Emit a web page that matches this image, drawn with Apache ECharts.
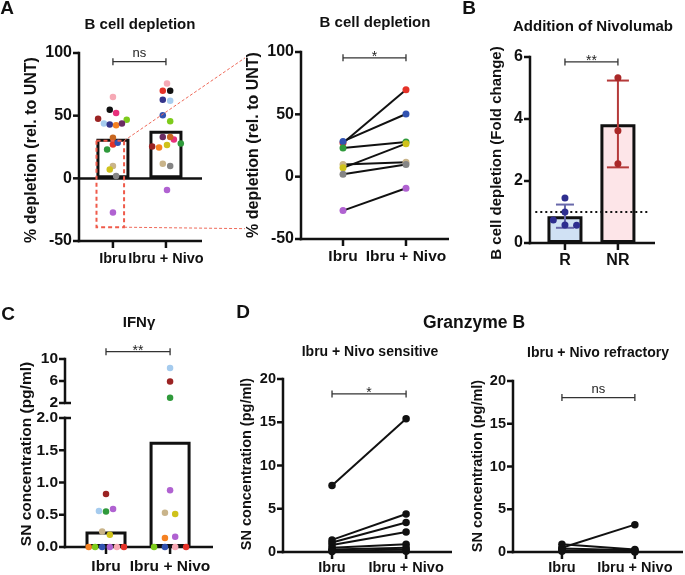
<!DOCTYPE html>
<html><head><meta charset="utf-8">
<script src="https://cdn.jsdelivr.net/npm/echarts@6/dist/echarts.min.js"></script>
<style>html,body{margin:0;padding:0;background:#fff}#c{width:685px;height:575px}</style>
</head><body><div id="c"></div>
<script>
// ---------------- DATA ----------------
const categories = ['Ibru', 'Ibru + Nivo'];
const categoriesB = ['R', 'NR'];
// donors (panel A): lightpink, black, magenta, darkred, lime, lightblue, navy, orange, plum, brownorange, red, blue, green, khaki, yellow, gray, purple
const donorColors = ['#f6a9b5','#111111','#e8317c','#9b2323','#7dcb1b','#a5cbee','#34348b','#f58121','#6b2d63','#c7661f','#e53228','#3152b1','#2f9a3b','#c9b48a','#cfc21b','#858585','#b062d1'];
const aIbru = [64.8,54.8,52.1,47.6,46.8,43.7,42.9,42.3,43.7,32.3,27.0,28.3,23.0,9.8,7.1,1.9,-27.2];
const aNivo = [75.6,69.8,31.0,25.4,45.5,61.9,62.7,24.6,33.0,33.0,69.8,50.3,27.8,11.6,26.5,9.8,-9.3];
const aIbruJitter = [0,-0.06,0.06,-0.28,0.26,-0.17,-0.06,0.06,0.17,0,0,0.09,-0.11,0,-0.06,0.06,0];
const aNivoJitter = [0.02,0.08,0.15,-0.26,0.08,0.08,-0.06,-0.13,-0.06,0.08,-0.06,-0.06,0.28,-0.06,0.02,0.08,0.02];
const aBars = [31.5, 38.0];
const aPairedDonors = [10,11,12,13,14,15,16];
const aTicks = [-50, 0, 50, 100];

const bR = [1.45,1.0,0.74,0.58,0.57];
const bRJitter = [0,0,-0.22,0,0.22];
const bNR = [5.33,3.62,2.56];
const bBars = [0.86, 3.83];
const bErrLow = [0.49, 2.44];
const bErrHigh = [1.24, 5.24];
const bRefLine = 1;
const bTicks = [0, 2, 4, 6];

// panel C donors: orange, lime, blue, purpleA, pink, red, darkred, lightblue, green, purpleB, khaki, yellow
const cColors = ['#f58121','#7dcb1b','#3152b1','#b062d1','#f6a9b5','#e53228','#9b2323','#a5cbee','#2f9a3b','#b062d1','#c9b48a','#cfc21b'];
const cIbru = [0,0,0,0,0,0,0.82,0.56,0.55,0.59,0.24,0.19];
const cNivo = [0.14,0,0,0.16,0,0,5.93,8.36,2.96,0.88,0.53,0.51];
const cIbruJitter = [-0.27,-0.17,-0.06,0.06,0.17,0.28,0,-0.11,0,0.11,-0.06,0.06];
const cNivoJitter = [-0.08,-0.25,-0.08,0.08,0.08,0.25,0,0,0,0,-0.08,0.08];
const cBars = [0.24, 1.63];
const cUpperTicks = [2, 6, 10];
const cLowerTicks = [0, 0.5, 1, 1.5, 2];

const dSensIbru = [7.7,1.4,1.1,0.8,0.5,0.3,0.15,0.05];
const dSensNivo = [15.4,4.4,3.4,2.3,0.9,0.5,0.3,0.1];
const dRefIbru = [0.5,0.9,0.4,0.2,0.1];
const dRefNivo = [3.2,0.3,0.2,0.0,0.1];
const dTicks = [0, 5, 10, 15, 20];

const sigLabels = ['ns','*','**','**','*','ns'];
const sigLevels = [93.1, 95.3, 5.84, 11.33, 18.27, 18.06];

// ---------------- STYLE / LAYOUT ----------------
const FONT = '"Liberation Sans", Arial, Helvetica, sans-serif';
const INK = '#111';
const grids = [
  [79, 53, 123, 188],   // 0 A left
  [301, 52, 148, 187],  // 1 A right
  [530, 57, 125, 186],  // 2 B
  [65, 359, 148, 44],   // 3 C upper
  [65, 418, 148, 129],  // 4 C lower
  [283, 379, 169, 173], // 5 D left
  [513, 381, 170, 172]  // 6 D right
];
const xRanges = [[0.36,2.68],[0.333,2.683],[0.34,2.70],[0.36,2.67],[0.36,2.67],[0.338,2.62],[0.329,2.66]];
const yRanges = [[-50,100],[-50,100],[0,6],[2,10],[0,2],[0,20],[0,20]];
const xFont = [14.5,15.5,16,15.5,15.5,14.5,14.5];
const xMargin = [10,10,10,12,12,8,8];

function xAxisCfg(gi, labels, show) {
  return {
    type:'value', gridIndex:gi, min:xRanges[gi][0], max:xRanges[gi][1], show: show !== false,
    axisLine:{show:false, onZero:false},
    axisTick:{show:false},
    axisLabel:{show:true, customValues:[1,2], hideOverlap:false, formatter: v => labels[Math.round(v)-1] || '',
      color:INK, fontFamily:FONT, fontWeight:'bold', fontSize:xFont[gi], margin:xMargin[gi]},
    splitLine:{show:false}
  };
}
function yAxisCfg(gi, ticks, fs, fmt) {
  const ax = {
    type:'value', gridIndex:gi, min:yRanges[gi][0], max:yRanges[gi][1],
    axisLine:{show:false, onZero:false},
    axisTick:{show:false},
    axisLabel:{customValues:ticks, color:INK, fontFamily:FONT, fontWeight:'bold', fontSize:fs, margin:7},
    splitLine:{show:false}
  };
  if (fmt) ax.axisLabel.formatter = fmt;
  return ax;
}
// axis lines + ticks drawn through the library's coordinate system
function axesSeries(gi, yTicks, drawX) {
  const xr = xRanges[gi], yr = yRanges[gi];
  return {type:'custom', xAxisIndex:gi, yAxisIndex:gi, clip:false, z:4, silent:true,
    data:[[xr[0], yr[0]]],
    renderItem:(p, api) => {
      const bl = api.coord([xr[0], yr[0]]), tl = api.coord([xr[0], yr[1]]), br = api.coord([xr[1], yr[0]]);
      const st = {stroke:INK, lineWidth:2.5};
      const ch = [{type:'line', shape:{x1:bl[0], y1:bl[1] + (drawX ? 1.25 : 0), x2:tl[0], y2:tl[1] - 1.25}, style:st}];
      yTicks.forEach(t => { const q = api.coord([xr[0], t]); ch.push({type:'line', shape:{x1:q[0]-6, y1:q[1], x2:q[0], y2:q[1]}, style:st}); });
      if (drawX) {
        ch.push({type:'line', shape:{x1:bl[0]-1.25, y1:bl[1], x2:br[0], y2:br[1]}, style:st});
        [1, 2].forEach(t => { const q = api.coord([t, yr[0]]); ch.push({type:'line', shape:{x1:q[0], y1:q[1], x2:q[0], y2:q[1]+7}, style:st}); });
      }
      return {type:'group', children:ch};
    }};
}

function dots(gi, xs, ys, colors, size, z) {
  return {type:'scatter', xAxisIndex:gi, yAxisIndex:gi, symbolSize:size, clip:false, z:z||5,
    data: ys.map((v,i) => ({value:[xs[i], v], itemStyle:{color: Array.isArray(colors) ? colors[i] : colors, opacity:1}}))};
}
function bracket(gi, level, label) {
  return {type:'custom', xAxisIndex:gi, yAxisIndex:gi, clip:false, z:10, silent:true,
    data:[[1, level, 2]],
    renderItem:(p, api) => {
      const a = api.coord([api.value(0), api.value(1)]);
      const b = api.coord([api.value(2), api.value(1)]);
      const st = {stroke:'#333', lineWidth:1.3};
      const isStar = label.indexOf('*') === 0;
      return {type:'group', children:[
        {type:'line', shape:{x1:a[0], y1:a[1], x2:b[0], y2:b[1]}, style:st},
        {type:'line', shape:{x1:a[0], y1:a[1]-3.5, x2:a[0], y2:a[1]+3.5}, style:st},
        {type:'line', shape:{x1:b[0], y1:b[1]-3.5, x2:b[0], y2:b[1]+3.5}, style:st},
        {type:'text', x:(a[0]+b[0])/2, y: a[1] - (isStar ? 1 : 8.5),
          style:{text:label, fill:'#222', fontFamily:FONT, fontSize: isStar ? 14 : 13,
            align:'center', verticalAlign:'middle', textAlign:'center', textVerticalAlign:'middle'}}
      ]};
    }};
}
function pairLines(gi, ys1, ys2, withSymbols) {
  return ys1.map((v,i) => ({
    type:'line', xAxisIndex:gi, yAxisIndex:gi, clip:false, z:6,
    symbol: withSymbols ? 'circle' : 'none', symbolSize:7.5, showSymbol: !!withSymbols,
    itemStyle:{color:INK}, lineStyle:{color:INK, width:2},
    data:[[1, v], [2, ys2[i]]]
  }));
}
function errBars(gi, xs, lows, highs, colors, caps) {
  return {type:'custom', xAxisIndex:gi, yAxisIndex:gi, clip:false, z:6, silent:true,
    data: xs.map((x,i) => [x, lows[i], highs[i], i]),
    renderItem:(p, api) => {
      const i = api.value(3);
      const lo = api.coord([api.value(0), api.value(1)]);
      const hi = api.coord([api.value(0), api.value(2)]);
      const st = {stroke:colors[i], lineWidth:2};
      const c = caps[i];
      return {type:'group', children:[
        {type:'line', shape:{x1:lo[0], y1:lo[1], x2:hi[0], y2:hi[1]}, style:st},
        {type:'line', shape:{x1:lo[0]-c, y1:lo[1], x2:lo[0]+c, y2:lo[1]}, style:st},
        {type:'line', shape:{x1:hi[0]-c, y1:hi[1], x2:hi[0]+c, y2:hi[1]}, style:st}
      ]};
    }};
}
const barStyle = {color:'rgba(255,255,255,0)', borderColor:INK, borderWidth:3};

// ---------------- SERIES ----------------
const series = [];
series.push(axesSeries(0, aTicks, true), axesSeries(1, aTicks, true), axesSeries(2, bTicks, true),
  axesSeries(3, cUpperTicks, false), axesSeries(4, cLowerTicks, true), axesSeries(5, dTicks, true), axesSeries(6, dTicks, true));
// A left
series.push({type:'bar', xAxisIndex:0, yAxisIndex:0, barWidth:33, z:2, itemStyle:barStyle,
  data: aBars.map((v,i) => [i+1, v]),
  markLine:{silent:true, symbol:'none', label:{show:false}, lineStyle:{color:INK, width:2.5, type:'solid'}, data:[{yAxis:0}]}});
series.push(dots(0, aIbruJitter.map(j => 1+j), aIbru, donorColors, 6.5));
series.push(dots(0, aNivoJitter.map(j => 2+j), aNivo, donorColors, 6.5));
series.push(bracket(0, sigLevels[0], sigLabels[0]));
// A right
series.push(...pairLines(1, aPairedDonors.map(i => aIbru[i]), aPairedDonors.map(i => aNivo[i]), false));
series.push(dots(1, aPairedDonors.map(() => 1), aPairedDonors.map(i => aIbru[i]), aPairedDonors.map(i => donorColors[i]), 7, 7));
series.push(dots(1, aPairedDonors.map(() => 2), aPairedDonors.map(i => aNivo[i]), aPairedDonors.map(i => donorColors[i]), 7, 7));
series.push(bracket(1, sigLevels[1], sigLabels[1]));
// B
series.push({type:'line', xAxisIndex:2, yAxisIndex:2, z:1, data:[], symbol:'none',
  markLine:{silent:true, symbol:'none', label:{show:false}, lineStyle:{color:INK, width:2, type:[2,3]},
    data:[[{coord:[xRanges[2][0]+0.1, bRefLine]}, {coord:[xRanges[2][1]-0.1, bRefLine]}]]}});
series.push({type:'bar', xAxisIndex:2, yAxisIndex:2, barWidth:35, z:2,
  data: bBars.map((v,i) => ({value:[i+1, v], itemStyle:{color: i===0 ? '#d0e1f4' : '#fde5e8', borderColor:INK, borderWidth:3}}))});
series.push(errBars(2, [1,2], bErrLow, bErrHigh, ['#6868aa','#b53a3a'], [9,11]));
series.push(dots(2, bRJitter.map(j => 1+j), bR, '#2e2e8f', 7, 7));
series.push(dots(2, bNR.map(() => 2), bNR, '#aa2828', 7, 7));
series.push(bracket(2, sigLevels[2], sigLabels[2]));
// C
function splitC(vals, jit, base, upper) {
  const xs = [], ys = [], cs = [];
  vals.forEach((v,i) => { if ((v > 2) === upper) { xs.push(base + jit[i]); ys.push(v); cs.push(cColors[i]); } });
  return [xs, ys, cs];
}
series.push({type:'bar', xAxisIndex:4, yAxisIndex:4, barWidth:41, z:2, itemStyle:barStyle,
  data: cBars.map((v,i) => [i+1, v])});
[[cIbru, cIbruJitter, 1], [cNivo, cNivoJitter, 2]].forEach(([vals, jit, base]) => {
  const lo = splitC(vals, jit, base, false);
  series.push(dots(4, lo[0], lo[1], lo[2], 6.5));
  const up = splitC(vals, jit, base, true);
  if (up[1].length) series.push(dots(3, up[0], up[1], up[2], 6.5));
});
series.push(bracket(3, sigLevels[3], sigLabels[3]));
// D
series.push(...pairLines(5, dSensIbru, dSensNivo, true));
series.push(bracket(5, sigLevels[4], sigLabels[4]));
series.push(...pairLines(6, dRefIbru, dRefNivo, true));
series.push(bracket(6, sigLevels[5], sigLabels[5]));

// ---------------- TEXT + ANNOTATIONS ----------------
function px(gi, x, y) {
  const g = grids[gi], xr = xRanges[gi], yr = yRanges[gi];
  return [g[0] + (x - xr[0]) / (xr[1] - xr[0]) * g[2], g[1] + g[3] - (y - yr[0]) / (yr[1] - yr[0]) * g[3]];
}
function txt(t, x, y, size, rot, weight) {
  return {type:'text', x:x, y:y, rotation: rot || 0, z:100,
    style:{text:t, fill:INK, fontFamily:FONT, fontWeight: weight || 'bold', fontSize:size,
      align:'center', verticalAlign:'middle', textAlign:'center', textVerticalAlign:'middle'}};
}
const R90 = Math.PI/2;
const g = [
  txt('A', 7, 9, 19), txt('B', 469, 9, 19), txt('C', 8, 315, 19), txt('D', 243, 313, 19),
  txt('B cell depletion', 140, 25, 15), txt('B cell depletion', 375, 23, 15),
  txt('Addition of Nivolumab', 593, 27, 15), txt('IFNγ', 139, 323, 15),
  txt('Granzyme B', 474, 323, 17.5), txt('Ibru + Nivo sensitive', 370, 352, 14), txt('Ibru + Nivo refractory', 598, 353, 14),
  txt('% depletion (rel. to UNT)', 32, 150, 16, R90), txt('% depletion (rel. to UNT)', 254, 145, 16, R90),
  txt('B cell depletion (Fold change)', 497, 153, 15, R90), txt('SN concentration (pg/ml)', 27, 454, 15.5, R90),
  txt('SN concentration (pg/ml)', 247, 464, 14.5, R90), txt('SN concentration (pg/ml)', 478, 466, 14.5, R90)
];
const zoomBoxX = [0.69, 1.21], zoomBoxY = [30, -39];
const linkEndX = -0.556, linkEndY = [95.3, -41.7];
const p0 = px(0, zoomBoxX[0], zoomBoxY[0]);
const p1 = px(0, zoomBoxX[1], zoomBoxY[1]);
const e0 = px(1, linkEndX, linkEndY[0]);
const e1 = px(1, linkEndX, linkEndY[1]);
g.push({type:'rect', z:50, shape:{x:p0[0], y:p0[1], width:p1[0]-p0[0], height:p1[1]-p0[1]},
  style:{fill:null, stroke:'#ef5b4b', lineWidth:2, lineDash:[4,3]}});
g.push({type:'line', z:50, shape:{x1:p1[0], y1:p0[1], x2:e0[0], y2:e0[1]}, style:{stroke:'#ef6a5a', lineWidth:1, lineDash:[3,2]}});
g.push({type:'line', z:50, shape:{x1:p1[0], y1:p1[1], x2:e1[0], y2:e1[1]}, style:{stroke:'#ef6a5a', lineWidth:1, lineDash:[3,2]}});
const bk1 = px(3, xRanges[3][0], 2);
const bk2 = px(4, xRanges[4][0], 2);
[bk1, bk2].forEach(b => g.push({type:'line', z:50, shape:{x1:b[0]-1, y1:b[1], x2:b[0]+6, y2:b[1]}, style:{stroke:INK, lineWidth:2.5}}));

const option = {
  animation:false,
  backgroundColor:'#ffffff',
  grid: grids.map(gr => ({left:gr[0], top:gr[1], width:gr[2], height:gr[3]})),
  xAxis: [
    xAxisCfg(0, categories), xAxisCfg(1, categories), xAxisCfg(2, categoriesB),
    xAxisCfg(3, categories, false), xAxisCfg(4, categories), xAxisCfg(5, categories), xAxisCfg(6, categories)
  ],
  yAxis: [
    yAxisCfg(0, aTicks, 16),
    yAxisCfg(1, aTicks, 16),
    yAxisCfg(2, bTicks, 16),
    yAxisCfg(3, cUpperTicks, 15.5),
    yAxisCfg(4, cLowerTicks, 15.5, v => v.toFixed(1)),
    yAxisCfg(5, dTicks, 14.5),
    yAxisCfg(6, dTicks, 14.5)
  ],
  graphic: g,
  series: series
};

const chart = echarts.init(document.getElementById('c'), null, {renderer:'canvas'});
chart.setOption(option);
</script>
</body></html>
